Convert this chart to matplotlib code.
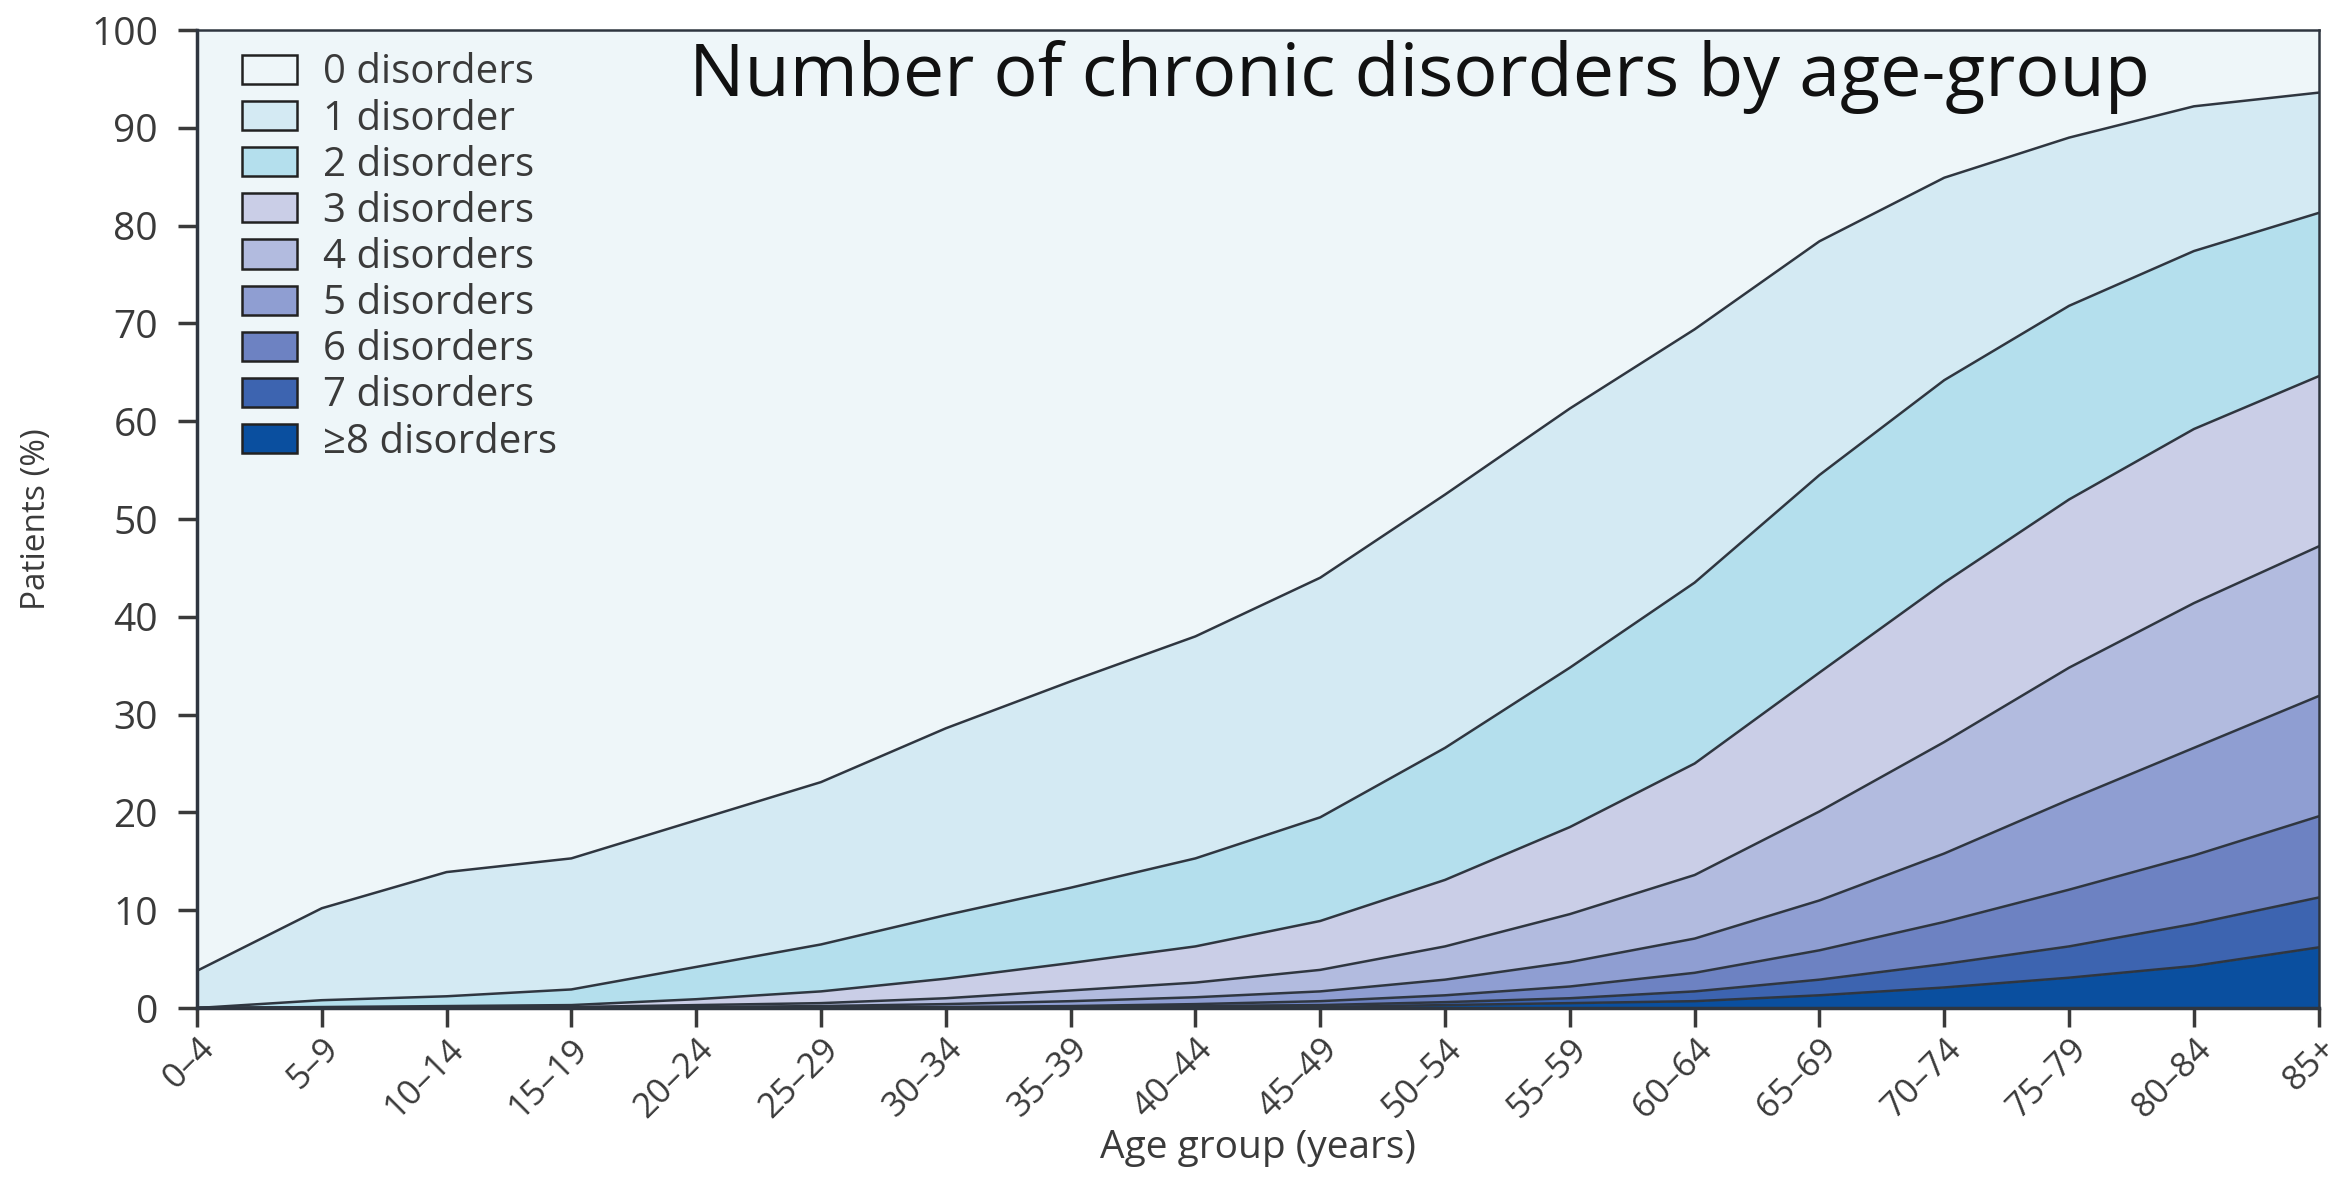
import matplotlib
matplotlib.use("Agg")
import matplotlib.pyplot as plt
from matplotlib.patches import Patch
import numpy as np

# age groups on the x axis
age_groups = ["0–4", "5–9", "10–14", "15–19", "20–24", "25–29", "30–34", "35–39",
              "40–44", "45–49", "50–54", "55–59", "60–64", "65–69", "70–74",
              "75–79", "80–84", "85+"]

# cumulative share of patients (%) with at least k disorders
atleast_1 = [3.8, 10.2, 13.9, 15.3, 19.2, 23.1, 28.6, 33.4, 38.0, 44.0,
             52.5, 61.3, 69.4, 78.4, 84.9, 89.0, 92.2, 93.6]
atleast_2 = [0.0, 0.8, 1.2, 1.9, 4.2, 6.5, 9.5, 12.3, 15.3, 19.5,
             26.6, 34.8, 43.5, 54.5, 64.2, 71.8, 77.4, 81.3]
atleast_3 = [0.0, 0.1, 0.2, 0.3, 0.9, 1.7, 3.0, 4.6, 6.3, 8.9,
             13.1, 18.5, 25.0, 34.3, 43.5, 52.0, 59.2, 64.6]
atleast_4 = [0.0, 0.0, 0.1, 0.1, 0.3, 0.5, 1.0, 1.8, 2.6, 3.9,
             6.3, 9.6, 13.6, 20.1, 27.2, 34.8, 41.4, 47.2]
atleast_5 = [0.0, 0.0, 0.0, 0.0, 0.1, 0.2, 0.4, 0.7, 1.1, 1.7,
             2.9, 4.7, 7.1, 11.0, 15.8, 21.3, 26.6, 31.9]
atleast_6 = [0.0, 0.0, 0.0, 0.0, 0.0, 0.1, 0.1, 0.2, 0.4, 0.7,
             1.3, 2.2, 3.6, 5.9, 8.8, 12.1, 15.6, 19.6]
atleast_7 = [0.0, 0.0, 0.0, 0.0, 0.0, 0.0, 0.0, 0.1, 0.2, 0.3,
             0.6, 1.0, 1.7, 2.9, 4.5, 6.3, 8.6, 11.3]
atleast_8 = [0.0, 0.0, 0.0, 0.0, 0.0, 0.0, 0.0, 0.0, 0.1, 0.1,
             0.3, 0.5, 0.7, 1.3, 2.1, 3.1, 4.3, 6.2]

labels = ["0 disorders", "1 disorder", "2 disorders", "3 disorders", "4 disorders",
          "5 disorders", "6 disorders", "7 disorders", "≥8 disorders"]
colors = ["#eef6f9", "#d4eaf3", "#b4dfed", "#cacee7", "#b2bbdf",
          "#8f9ed2", "#6d82c2", "#3d64b0", "#0a4f9f"]

title = "Number of chronic disorders by age-group"

plt.rcParams['font.family'] = ['Open Sans', 'DejaVu Sans']
text_col = "#3a3a3a"
line_col = "#2f3640"

fig = plt.figure(figsize=(23.28, 11.78), dpi=100)
ax = fig.add_axes([0.0846, 0.1443, 0.9114, 0.8302])

x = np.arange(len(age_groups))
top = np.full(len(age_groups), 100.0)
bounds = [top, atleast_1, atleast_2, atleast_3, atleast_4, atleast_5,
          atleast_6, atleast_7, atleast_8, np.zeros(len(age_groups))]

# bands between consecutive cumulative lines
for i in range(len(labels)):
    ax.fill_between(x, bounds[i + 1], bounds[i], color=colors[i], lw=0)
for b in bounds[1:-1]:
    ax.plot(x, b, color=line_col, lw=1.8)

ax.set_xlim(0, len(age_groups) - 1)
ax.set_ylim(0, 100)
ax.set_yticks(range(0, 101, 10))
ax.set_xticks(x)
ax.set_xticklabels(age_groups, rotation=45, ha="right", rotation_mode="anchor")
ax.tick_params(axis="both", colors=text_col, length=14, width=2.5, direction="out")
ax.tick_params(axis="y", labelsize=28, pad=14)
ax.tick_params(axis="x", labelsize=25, pad=3)

for side in ["left", "bottom"]:
    ax.spines[side].set_linewidth(2.5)
    ax.spines[side].set_color(line_col)
for side in ["top", "right"]:
    ax.spines[side].set_linewidth(1.8)
    ax.spines[side].set_color(line_col)

ax.set_xlabel("Age group (years)", fontsize=28, color=text_col)
ax.xaxis.set_label_coords(0.5, -0.124)
ax.set_ylabel("Patients (%)", fontsize=24, color=text_col, va="center")
ax.yaxis.set_label_coords(-0.0754, 0.5)

ax.text(0.576, 0.952, title, transform=ax.transAxes, ha="center", va="center",
        fontsize=53, color="#111111")

handles = [Patch(facecolor=c, edgecolor="#222222", lw=1.8) for c in colors]
leg = ax.legend(handles, labels, loc="upper left", bbox_to_anchor=(0.0137, 0.993),
                frameon=False, fontsize=29, handlelength=1.36, handleheight=0.74,
                labelspacing=0.14, handletextpad=0.66, borderaxespad=0.0,
                borderpad=0.4)
for t in leg.get_texts():
    t.set_color(text_col)

fig.savefig("out.png", dpi=100, facecolor="white")
